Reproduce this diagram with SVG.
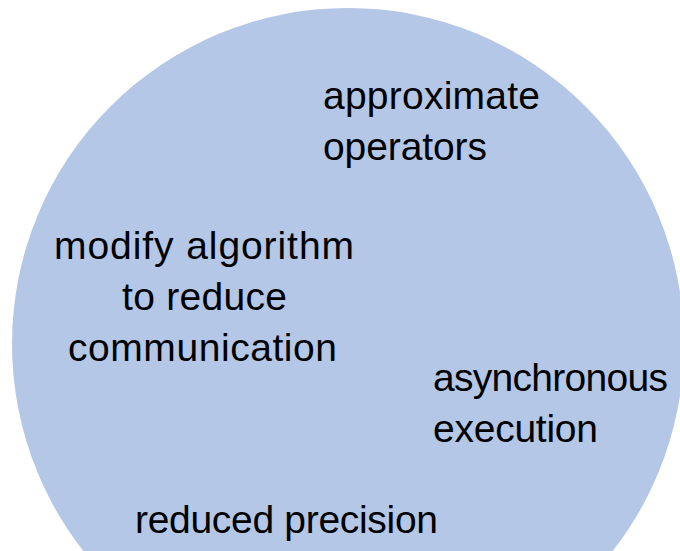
<svg xmlns="http://www.w3.org/2000/svg" width="680" height="551" viewBox="0 0 680 551">
<style>
.lbl{font-family:"Liberation Sans",Arial,sans-serif;font-size:39px;fill:#000}
</style>
<rect width="680" height="551" fill="#fff"/>
<g id="circle"><circle cx="348" cy="344" r="336" fill="#b4c7e7"/></g>
<g id="approx"><text class="lbl" x="323" y="109" textLength="217">approximate</text><text class="lbl" x="323" y="160" textLength="164">operators</text></g>
<g id="modify"><text class="lbl" x="54" y="259" textLength="300">modify algorithm</text><text class="lbl" x="122" y="310" textLength="165">to reduce</text><text class="lbl" x="68" y="361" textLength="269">communication</text></g>
<g id="async"><text class="lbl" x="433" y="391" textLength="235">asynchronous</text><text class="lbl" x="433" y="442" textLength="165">execution</text></g>
<g id="reduced"><text class="lbl" x="135" y="533" textLength="303">reduced precision</text></g>
</svg>
